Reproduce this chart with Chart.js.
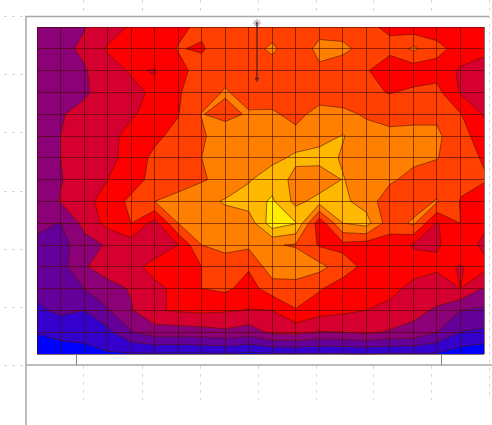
<!DOCTYPE html>
<html>
<head>
<meta charset="utf-8">
<title>Contour</title>
<script src="https://cdn.jsdelivr.net/npm/chart.js@4"></script>
<style>
  html, body { margin: 0; padding: 0; background: #fff; }
  #wrap { width: 492px; height: 425px; filter: blur(0.7px); }
</style>
</head>
<body>
<div id="wrap"><canvas id="chart" width="492" height="425"></canvas></div>
<script>
// grid values, one list per row from the top
const row00 = [3.5, 3.6, 3.95, 4.6, 5.1, 5.4, 5.8, 6.2, 6.4, 6.5, 6.5, 6.5, 6.6, 6.6, 6.2, 5.8, 5.4, 5.5, 5.4, 5.3]
const row01 = [3.5, 3.7, 4.2, 5.1, 5.3, 5.5, 6.05, 5.9, 6.5, 6.6, 7.2, 6.3, 7.3, 7.2, 6.7, 6.3, 7.2, 6.3, 5.6, 5.3]
const row02 = [3.3, 3.3, 3.9, 4.6, 5.1, 4.95, 5.7, 6.4, 6.5, 6.6, 6.5, 6.5, 6.8, 6.5, 6.1, 5.3, 5.4, 5.6, 4.85, 4.5]
const row03 = [3.2, 3.2, 3.9, 4.3, 4.7, 5.2, 5.95, 6.3, 7.15, 6.4, 6.3, 6.2, 6.3, 6.3, 6.2, 5.95, 6.2, 6.3, 4.9, 4.5]
const row04 = [3.2, 3.95, 4.2, 4.5, 4.9, 5.3, 5.95, 7.05, 6.6, 7.15, 7.2, 6.6, 7.5, 7.3, 6.85, 6.6, 6.7, 6.8, 6.05, 4.9]
const row05 = [3.2, 4.0, 4.3, 4.7, 5.3, 5.8, 6.3, 6.8, 7.8, 7.3, 7.3, 7.4, 7.6, 8.05, 7.5, 7.3, 7.3, 7.2, 6.3, 5.6]
const row06 = [3.3, 4.0, 4.3, 4.6, 5.5, 6.2, 6.6, 7.0, 7.3, 7.4, 7.7, 8.2, 8.4, 7.9, 7.5, 7.4, 7.3, 7.05, 6.4, 5.9]
const row07 = [3.3, 3.95, 4.4, 5.0, 5.6, 6.3, 6.6, 6.9, 7.3, 7.9, 8.6, 7.7, 7.3, 8.05, 7.5, 7.2, 6.6, 6.4, 6.2, 6.1]
const row08 = [3.4, 4.05, 4.6, 5.5, 6.2, 7.0, 7.3, 7.7, 8.1, 8.5, 9.15, 7.7, 8.4, 8.2, 7.6, 6.3, 6.4, 7.1, 5.95, 5.4]
const row09 = [3.3, 2.95, 4.3, 5.3, 6.0, 4.6, 7.0, 7.4, 7.5, 7.4, 9.6, 9.05, 5.3, 8.0, 8.4, 6.4, 7.2, 4.9, 6.0, 5.2]
const row10 = [2.7, 2.6, 3.6, 4.1, 4.5, 4.5, 5.0, 7.0, 7.3, 7.2, 7.1, 6.9, 5.9, 5.7, 5.5, 5.6, 4.9, 4.9, 5.5, 4.8]
const row11 = [2.7, 2.6, 3.9, 4.5, 4.7, 5.3, 5.4, 6.0, 6.5, 6.1, 7.6, 7.7, 7.3, 6.5, 5.7, 5.5, 5.4, 5.2, 4.95, 5.3]
const row12 = [2.3, 2.5, 3.0, 3.6, 4.1, 4.8, 5.2, 6.0, 6.2, 5.6, 6.5, 6.5, 6.1, 5.5, 5.3, 5.3, 4.7, 4.4, 5.0, 3.9]
const row13 = [1.8, 2.2, 2.0, 2.9, 3.9, 4.9, 5.1, 5.2, 5.1, 4.95, 5.0, 5.95, 5.4, 5.2, 5.0, 4.7, 4.2, 3.9, 3.0, 2.8]
const row14 = [1.05, 1.3, 1.4, 1.7, 2.9, 3.5, 3.5, 3.6, 3.8, 3.5, 4.2, 4.3, 3.95, 4.0, 4.2, 3.9, 3.8, 3.0, 1.95, 1.8]
const row15 = [0.3, 0.5, 0.6, 0.9, 0.9, 0.9, 0.85, 0.85, 0.95, 0.8, 0.9, 0.95, 0.9, 0.95, 1.0, 0.9, 0.95, 0.9, 0.5, 0.3]
const rows = [row00, row01, row02, row03, row04, row05, row06, row07, row08, row09, row10, row11, row12, row13, row14, row15]

// one colour per band, band n holds values from n up to n+1
const bandColors = ['#0000ff', '#3300cc', '#640099', '#8c0078', '#d60030', '#ff0000', '#ff4000', '#ff8000', '#ffb800', '#ffee00']

// the star and its arrow on the top of the plot
const markerX = [9.35, 9.35]
const markerY = [-0.18, 2.4]

// cut one grid cell to the part at or above level, also gives the contour pieces
function cutCell(cell, level, poly, lines) {
  let cutStart = null
  let firstCut = null
  for (let k = 0; k < 4; k++) {
    const a = cell[k]
    const b = cell[(k + 1) % 4]
    const aIn = a.v >= level
    const bIn = b.v >= level
    if (aIn) poly.push(a)
    if (aIn !== bIn) {
      const t = (level - a.v) / (b.v - a.v)
      const p = { x: a.x + (b.x - a.x) * t, y: a.y + (b.y - a.y) * t }
      poly.push(p)
      if (aIn) {
        cutStart = p
      } else if (cutStart) {
        lines.push([cutStart, p])
        cutStart = null
      } else {
        firstCut = p
      }
    }
  }
  if (cutStart && firstCut) lines.push([cutStart, firstCut])
}

const contourPlugin = {
  id: 'contour',
  beforeDatasetsDraw(chart) {
    const ctx = chart.ctx
    const xs = chart.scales.x
    const ys = chart.scales.y
    ctx.save()
    ctx.fillStyle = bandColors[0]
    ctx.fillRect(xs.left, ys.top, xs.right - xs.left, ys.bottom - ys.top)
    const allLines = []
    for (let level = 1; level < bandColors.length; level++) {
      ctx.beginPath()
      for (let j = 0; j < rows.length - 1; j++) {
        for (let i = 0; i < rows[j].length - 1; i++) {
          const cell = [
            { x: i, y: j, v: rows[j][i] },
            { x: i + 1, y: j, v: rows[j][i + 1] },
            { x: i + 1, y: j + 1, v: rows[j + 1][i + 1] },
            { x: i, y: j + 1, v: rows[j + 1][i] }
          ]
          const poly = []
          cutCell(cell, level, poly, allLines)
          if (!poly.length) continue
          poly.forEach((p, n) => {
            const px = xs.getPixelForValue(p.x)
            const py = ys.getPixelForValue(p.y)
            if (n === 0) ctx.moveTo(px, py)
            else ctx.lineTo(px, py)
          })
          ctx.closePath()
        }
      }
      ctx.fillStyle = bandColors[level]
      ctx.fill()
    }
    ctx.beginPath()
    allLines.forEach(s => {
      ctx.moveTo(xs.getPixelForValue(s[0].x), ys.getPixelForValue(s[0].y))
      ctx.lineTo(xs.getPixelForValue(s[1].x), ys.getPixelForValue(s[1].y))
    })
    ctx.strokeStyle = 'rgba(90, 20, 0, 0.6)'
    ctx.lineWidth = 1
    ctx.stroke()
    ctx.restore()
  }
}

// the grey frame and faint dashed ticks around the plot
const framePlugin = {
  id: 'frame',
  afterDraw(chart) {
    const ctx = chart.ctx
    ctx.save()
    ctx.setLineDash([3, 5])
    ctx.strokeStyle = '#d8d8d8'
    ctx.lineWidth = 1
    ctx.beginPath()
    ;[83, 142, 200, 258, 316, 373, 431].forEach(x => {
      ctx.moveTo(x + 0.5, 0)
      ctx.lineTo(x + 0.5, 16)
      ctx.moveTo(x + 0.5, 366)
      ctx.lineTo(x + 0.5, 400)
    })
    ctx.moveTo(489.5, 0)
    ctx.lineTo(489.5, 400)
    ;[16, 74, 132, 191, 249, 307, 365].forEach(y => {
      ctx.moveTo(4, y + 0.5)
      ctx.lineTo(26, y + 0.5)
    })
    ctx.stroke()
    ctx.setLineDash([])
    ctx.strokeStyle = '#a8a8a8'
    ctx.lineWidth = 1.5
    ctx.beginPath()
    ctx.moveTo(26, 425)
    ctx.lineTo(26, 16.5)
    ctx.lineTo(489, 16.5)
    ctx.moveTo(26, 365)
    ctx.lineTo(492, 365)
    ctx.stroke()
    ctx.strokeStyle = '#808080'
    ctx.lineWidth = 1
    ctx.beginPath()
    ctx.moveTo(76.5, 354)
    ctx.lineTo(76.5, 365)
    ctx.moveTo(441.5, 354)
    ctx.lineTo(441.5, 365)
    ctx.stroke()
    ctx.restore()
  }
}

new Chart(document.getElementById('chart'), {
  type: 'scatter',
  data: {
    datasets: [{
      data: markerX.map((x, i) => ({ x: x, y: markerY[i] })),
      showLine: true,
      clip: false,
      borderColor: 'rgba(70, 30, 40, 0.5)',
      borderWidth: 1,
      pointStyle: ['star', 'triangle'],
      rotation: [0, 180],
      radius: [4, 2.5],
      backgroundColor: 'rgba(70, 30, 40, 0.5)',
      pointBorderColor: 'rgba(70, 30, 40, 0.5)'
    }]
  },
  options: {
    responsive: false,
    animation: false,
    events: [],
    layout: { padding: { left: 37, right: 8, top: 27, bottom: 71 } },
    plugins: { legend: { display: false }, tooltip: { enabled: false } },
    scales: {
      x: {
        type: 'linear',
        min: 0,
        max: 19,
        border: { display: false },
        grid: { color: 'rgba(70, 10, 0, 0.6)', drawTicks: false, z: 1 },
        ticks: { display: false, stepSize: 1, autoSkip: false, maxTicksLimit: 30 }
      },
      y: {
        type: 'linear',
        reverse: true,
        min: 0,
        max: 15,
        border: { display: false },
        grid: { color: 'rgba(70, 10, 0, 0.6)', drawTicks: false, z: 1 },
        ticks: { display: false, stepSize: 1, autoSkip: false, maxTicksLimit: 30 }
      }
    }
  },
  plugins: [contourPlugin, framePlugin]
})
</script>
</body>
</html>
